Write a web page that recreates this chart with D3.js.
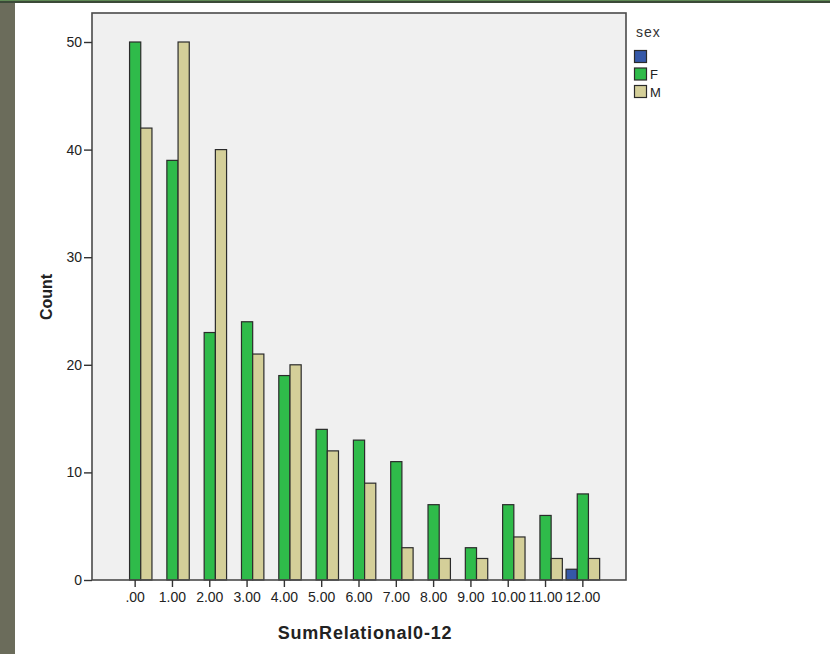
<!DOCTYPE html>
<html>
<head>
<meta charset="utf-8">
<script src="https://cdn.jsdelivr.net/npm/d3@7"></script>
<style>
  html, body { margin: 0; padding: 0; background: #ffffff; }
  svg { display: block; }
</style>
</head>
<body>
<svg id="chart" width="830" height="654"></svg>
<script>
// Counts of SumRelational0-12 split by sex
const categories = [".00", "1.00", "2.00", "3.00", "4.00", "5.00", "6.00", "7.00", "8.00", "9.00", "10.00", "11.00", "12.00"];
const seriesNames = ["", "F", "M"];
const blankCounts = [0, 0, 0, 0, 0, 0, 0, 0, 0, 0, 0, 0, 1];
const femaleCounts = [50, 39, 23, 24, 19, 14, 13, 11, 7, 3, 7, 6, 8];
const maleCounts = [42, 50, 40, 21, 20, 12, 9, 3, 2, 2, 4, 2, 2];
const yTicks = [0, 10, 20, 30, 40, 50];
const seriesColors = ["#3558a8", "#2fbb4a", "#d4cf99"];

const seriesValues = [blankCounts, femaleCounts, maleCounts];
const rows = categories.map((c, i) => ({
  cat: c,
  vals: seriesNames.map((s, j) => ({ key: s, idx: j, value: seriesValues[j][i] }))
}));

const svg = d3.select("#chart");
const font = "'Liberation Sans', Arial, sans-serif";

// window decoration strips
svg.append("rect").attr("x", 0).attr("y", 0).attr("width", 15).attr("height", 654).attr("fill", "#6b6c5b");
svg.append("rect").attr("x", 0).attr("y", 0).attr("width", 830).attr("height", 1).attr("fill", "#5f8a55");
svg.append("rect").attr("x", 0).attr("y", 1).attr("width", 830).attr("height", 2).attr("fill", "#3b4a38");

const plot = { left: 92, top: 13, right: 626, bottom: 580 };

const x = d3.scaleBand().domain(categories).range([116.5, 601.5]).padding(0);
const groupWidth = 33.6;
const xSub = d3.scaleBand().domain(seriesNames).range([0, groupWidth]);
const y = d3.scaleLinear().domain([0, 50]).range([plot.bottom, 42]);

// plot background
svg.append("rect")
  .attr("x", plot.left).attr("y", plot.top)
  .attr("width", plot.right - plot.left).attr("height", plot.bottom - plot.top)
  .attr("fill", "#f0f0f0");

// bars
const groups = svg.append("g").selectAll("g").data(rows).join("g")
  .attr("transform", d => `translate(${x(d.cat) + (x.bandwidth() - groupWidth) / 2},0)`);

groups.selectAll("rect").data(d => d.vals).join("rect")
  .attr("x", d => xSub(d.key))
  .attr("y", d => y(d.value))
  .attr("width", xSub.bandwidth())
  .attr("height", d => y(0) - y(d.value))
  .attr("fill", d => seriesColors[d.idx])
  .attr("stroke", "#2b2b2b")
  .attr("stroke-width", 1.2);

// frame
svg.append("rect")
  .attr("x", plot.left).attr("y", plot.top)
  .attr("width", plot.right - plot.left).attr("height", plot.bottom - plot.top)
  .attr("fill", "none").attr("stroke", "#4a4a4a").attr("stroke-width", 1.6);

// axes
const yAxis = svg.append("g")
  .attr("transform", `translate(${plot.left},0)`)
  .call(d3.axisLeft(y).tickValues(yTicks).tickFormat(d3.format("d")).tickSize(8).tickSizeOuter(0));
yAxis.select(".domain").remove();
yAxis.selectAll("line").attr("stroke", "#333").attr("stroke-width", 1.4);
yAxis.selectAll("text").attr("font-family", font).attr("font-size", 14).attr("fill", "#222").attr("x", -10);

const xAxis = svg.append("g")
  .attr("transform", `translate(0,${plot.bottom})`)
  .call(d3.axisBottom(x).tickSize(7).tickSizeOuter(0));
xAxis.select(".domain").remove();
xAxis.selectAll("line").attr("stroke", "#333").attr("stroke-width", 1.4);
xAxis.selectAll("text").attr("font-family", font).attr("font-size", 14).attr("fill", "#222").attr("y", 12);

// axis titles
svg.append("text")
  .attr("x", 365).attr("y", 639)
  .attr("text-anchor", "middle")
  .attr("font-family", font).attr("font-size", 18).attr("font-weight", "bold")
  .attr("letter-spacing", 0.8).attr("fill", "#222")
  .text("SumRelational0-12");

svg.append("text")
  .attr("transform", "translate(52,297) rotate(-90)")
  .attr("text-anchor", "middle")
  .attr("font-family", font).attr("font-size", 16).attr("font-weight", "bold").attr("fill", "#222")
  .text("Count");

// legend
const legend = svg.append("g").attr("transform", "translate(634,0)");
legend.append("text")
  .attr("x", 2).attr("y", 37)
  .attr("font-family", font).attr("font-size", 14).attr("letter-spacing", 1).attr("fill", "#333")
  .text("sex");
const items = legend.selectAll("g.item").data(seriesNames).join("g")
  .attr("class", "item")
  .attr("transform", (d, i) => `translate(0,${50 + i * 17.5})`);
items.append("rect")
  .attr("x", 0.5).attr("y", 0.5).attr("width", 12).attr("height", 12)
  .attr("fill", (d, i) => seriesColors[i])
  .attr("stroke", "#2b2b2b").attr("stroke-width", 1.2);
items.append("text")
  .attr("x", 16).attr("y", 11.5)
  .attr("font-family", font).attr("font-size", 13).attr("fill", "#222")
  .text(d => d);
</script>
</body>
</html>
